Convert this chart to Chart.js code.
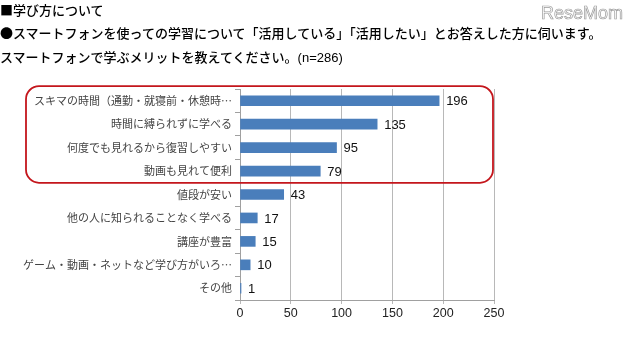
<!DOCTYPE html>
<html><head><meta charset="utf-8">
<script src="https://cdn.jsdelivr.net/npm/chart.js@4/dist/chart.umd.min.js"></script>
<style>
html,body{margin:0;padding:0;background:#fff;}
#wrap{position:relative;width:640px;height:354px;overflow:hidden;}
canvas{position:absolute;left:0;top:0;}
.h{position:absolute;left:0;font-family:"Noto Sans CJK JP",sans-serif;font-weight:500;color:#000;white-space:nowrap;font-size:13px;line-height:16px;}
.n{font-family:"Liberation Sans Narrow","Liberation Sans",sans-serif;font-weight:normal;}
#logo{position:absolute;left:541px;top:3px;font-family:"Liberation Sans",sans-serif;font-size:18px;color:#fff;-webkit-text-stroke:0.7px #9a9a9a;letter-spacing:0px;}
</style></head>
<body><div id="wrap">
<canvas id="c" width="640" height="354"></canvas>
<div class="h" style="top:2px">■学び方について</div>
<div class="h" style="top:25px">●スマートフォンを使っての学習について「活用している」「活用したい」とお答えした方に伺います。</div>
<div class="h" style="top:49px">スマートフォンで学ぶメリットを教えてください。<span class="n">(n=286)</span></div>
<div id="logo">ReseMom</div>
</div>
<script>
const categories = [
  "スキマの時間（通勤・就寝前・休憩時…",
  "時間に縛られずに学べる",
  "何度でも見れるから復習しやすい",
  "動画も見れて便利",
  "値段が安い",
  "他の人に知られることなく学べる",
  "講座が豊富",
  "ゲーム・動画・ネットなど学び方がいろ…",
  "その他"
];
const values = [196, 135, 95, 79, 43, 17, 15, 10, 1];
const xTicks = [0, 50, 100, 150, 200, 250];
const highlightCount = 4;

const valueLabels = {
  id: 'valueLabels',
  afterDatasetsDraw(chart) {
    const ctx = chart.ctx;
    const meta = chart.getDatasetMeta(0);
    ctx.save();
    ctx.font = '13px "Liberation Sans", Arial, sans-serif';
    ctx.fillStyle = '#111';
    ctx.textBaseline = 'middle';
    ctx.textAlign = 'left';
    meta.data.forEach((bar, i) => {
      ctx.fillText(String(values[i]), bar.x + 7, bar.y + 1);
    });
    ctx.restore();
  }
};

const highlightBox = {
  id: 'highlightBox',
  afterDraw(chart) {
    const ys = chart.scales.y, xs = chart.scales.x;
    const step = ys.getPixelForValue(1) - ys.getPixelForValue(0);
    const top = ys.getPixelForValue(0) - step * 0.62;
    const bottom = ys.getPixelForValue(highlightCount - 1) + step * 0.5;
    const left = 26, right = xs.right - 1, r = 13;
    const ctx = chart.ctx;
    ctx.save();
    ctx.strokeStyle = '#c4161c';
    ctx.lineWidth = 1.8;
    ctx.beginPath();
    ctx.moveTo(left + r, top);
    ctx.lineTo(right - r, top);
    ctx.arcTo(right, top, right, top + r, r);
    ctx.lineTo(right, bottom - r);
    ctx.arcTo(right, bottom, right - r, bottom, r);
    ctx.lineTo(left + r, bottom);
    ctx.arcTo(left, bottom, left, bottom - r, r);
    ctx.lineTo(left, top + r);
    ctx.arcTo(left, top, left + r, top, r);
    ctx.closePath();
    ctx.stroke();
    ctx.restore();
  }
};

new Chart(document.getElementById('c'), {
  type: 'bar',
  data: {
    labels: categories,
    datasets: [{
      data: values,
      backgroundColor: '#4a7ebb',
      borderWidth: 0,
      barThickness: 10
    }]
  },
  options: {
    indexAxis: 'y',
    responsive: false,
    animation: false,
    devicePixelRatio: 1,
    layout: { padding: { left: 0, right: 146, top: 89, bottom: 0 } },
    plugins: { legend: { display: false }, tooltip: { enabled: false } },
    scales: {
      x: {
        min: 0, max: 250,
        afterBuildTicks(axis) { axis.ticks = xTicks.map(v => ({ value: v })); },
        afterFit(axis) { axis.height = 54; },
        grid: { color: '#b8b8b8', lineWidth: 1, tickLength: 4, drawTicks: true },
        border: { display: true, color: '#a0a0a0' },
        ticks: { color: '#222', font: { family: '"Liberation Sans", Arial, sans-serif', size: 12.5 }, padding: 2 }
      },
      y: {
        afterFit(axis) { axis.width = 240; },
        grid: { drawOnChartArea: false, color: '#a0a0a0', tickLength: 5, offset: true },
        border: { display: true, color: '#a0a0a0' },
        ticks: { color: '#444', font: { family: '"Noto Sans CJK JP", sans-serif', size: 11 }, padding: 3, autoSkip: false }
      }
    }
  },
  plugins: [valueLabels, highlightBox]
});
</script>
</body></html>
